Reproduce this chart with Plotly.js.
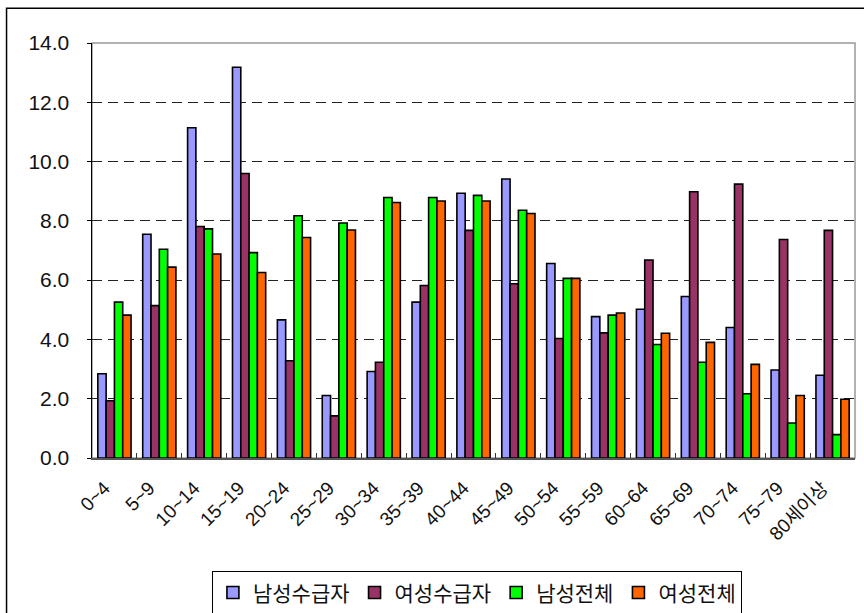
<!DOCTYPE html>
<html>
<head>
<meta charset="utf-8">
<script src="https://cdn.plot.ly/plotly-3.0.1.min.js"></script>
<style>html,body{margin:0;padding:0;background:#fff;}#chart{width:864px;height:613px;}</style>
</head>
<body>
<div id="chart"></div>
<script>
const categories = ["0~4","5~9","10~14","15~19","20~24","25~29","30~34","35~39","40~44","45~49","50~54","55~59","60~64","65~69","70~74","75~79","80세이상"];
const seriesNames = ["남성수급자","여성수급자","남성전체","여성전체"];
const maleRecipients   = [2.84,7.55,11.14,13.18,4.66,2.11,2.92,5.26,8.93,9.41,6.56,4.77,5.02,5.45,4.40,2.97,2.79];
const femaleRecipients = [1.93,5.14,7.81,9.60,3.28,1.42,3.23,5.82,7.68,5.88,4.03,4.22,6.68,8.98,9.24,7.37,7.68];
const maleTotal        = [5.26,7.04,7.73,6.93,8.17,7.93,8.79,8.79,8.86,8.36,6.06,4.82,3.83,3.23,2.17,1.18,0.79];
const femaleTotal      = [4.82,6.44,6.88,6.26,7.44,7.69,8.62,8.67,8.67,8.25,6.06,4.89,4.21,3.90,3.16,2.11,1.98];
const yTickVals = [0,2,4,6,8,10,12,14];
const yTickText = ["0.0","2.0","4.0","6.0","8.0","10.0","12.0","14.0"];

const colors = ["#9999FF","#993366","#00FF00","#FF6600"];
const values = [maleRecipients, femaleRecipients, maleTotal, femaleTotal];
const FONT = "Liberation Sans, Arial, Noto Sans CJK KR, sans-serif";

const data = values.map((v,i) => ({
  type: "bar",
  name: seriesNames[i],
  x: categories,
  y: v,
  marker: {color: colors[i], line: {color: "#000", width: 1.6}},
  hoverinfo: "x+y+name"
}));

const layout = {
  width: 864, height: 613,
  margin: {l: 92, r: 9, t: 43, b: 155},
  paper_bgcolor: "#fff", plot_bgcolor: "#fff",
  barmode: "group", bargap: 0.26, bargroupgap: 0,
  font: {family: FONT, color: "#111"},
  xaxis: {
    type: "category",
    tickangle: -45,
    tickfont: {size: 19, family: FONT, color: "#111"},
    ticks: "inside", tickson: "boundaries", ticklen: 5, tickcolor: "#333",
    ticklabelstandoff: 10, ticklabelshift: -10,
    showline: true, linecolor: "#555", linewidth: 1.5,
    showgrid: false, automargin: false
  },
  yaxis: {
    range: [0, 14],
    tickvals: yTickVals, ticktext: yTickText,
    tickfont: {size: 21, family: FONT, color: "#111"},
    ticks: "outside", ticklen: 4, tickcolor: "#000",
    ticklabelstandoff: 13,
    showline: true, linecolor: "#000", linewidth: 1.5,
    showgrid: true, gridcolor: "#222", gridwidth: 1, griddash: "10px,6px",
    zeroline: false, automargin: false
  },
  showlegend: true,
  legend: {
    orientation: "h",
    xref: "container", yref: "container",
    x: 0.552, xanchor: "center",
    y: 0.068, yanchor: "top",
    bordercolor: "#000", borderwidth: 1, bgcolor: "#fff",
    font: {size: 21, family: FONT, color: "#111"},
    tracegroupgap: 0
  },
  shapes: [
    {type: "rect", xref: "paper", yref: "paper", x0: 0, x1: 1, y0: 0, y1: 1,
     line: {color: "#999", width: 1.5}, layer: "below"},
    {type: "rect", xref: "paper", yref: "paper", x0: -0.112, x1: 1.03, y0: -0.4, y1: 1.084,
     line: {color: "#000", width: 1.5}, layer: "below"}
  ]
};

Plotly.newPlot("chart", data, layout, {staticPlot: true, displayModeBar: false});
</script>
</body>
</html>
